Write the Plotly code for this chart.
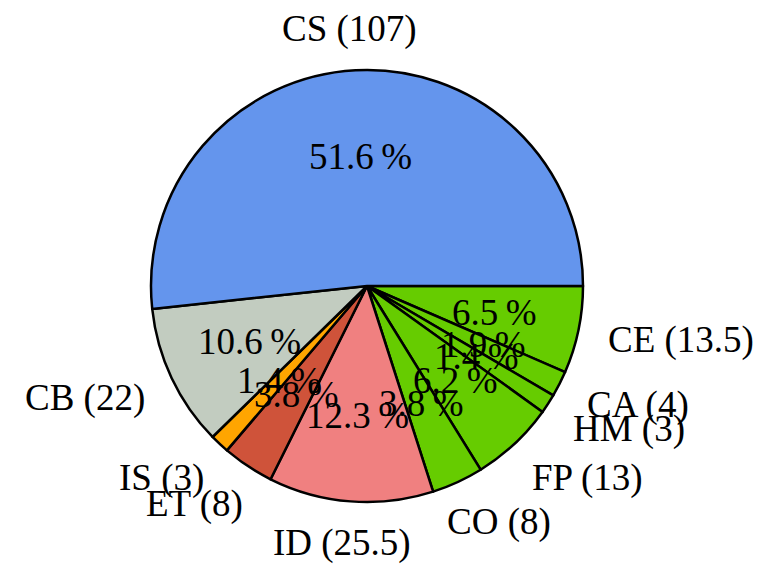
import math
import plotly.graph_objects as go

# ---- data ----
categories = ["CS", "CB", "IS", "ET", "ID", "CO", "FP", "HM", "CA", "CE"]
values = [107, 22, 3, 8, 25.5, 8, 13, 3, 4, 13.5]
pct_labels = ["51.6", "10.6", "1.4", "3.8", "12.3", "3.8", "6.2", "1.4", "1.9", "6.5"]
colors = ["#6495ED", "#C2CCC0", "#FFA500", "#CF533A", "#F08080",
          "#66CC00", "#66CC00", "#66CC00", "#66CC00", "#66CC00"]

# ---- layout constants (figure sits 8px inside the page because of body margin) ----
W, H = 760, 560
CX, CY, R = 359, 278, 216          # pie centre / radius in figure pixels (y from top)
FONT = "Liberation Serif"
FS = 37
LABEL_DIST = 1.11 * R
PCT_DIST = 0.6 * R
HALF_H = 18
K = 1.3

# serif-roman advance widths (per 1000 em) used to offset the outer labels
CM = {'A': 750, 'B': 708, 'C': 722, 'D': 764, 'E': 681, 'F': 653, 'H': 750,
      'I': 361, 'M': 917, 'O': 778, 'P': 681, 'S': 556, 'T': 722, ' ': 333,
      '(': 389, ')': 389, '.': 278}


def text_w(s):
    return sum(CM.get(ch, 500) for ch in s) / 1000 * FS


def clamp(x):
    return max(-1.0, min(1.0, x * K))


fig = go.Figure(go.Pie(
    labels=categories[::-1],
    values=values[::-1],
    marker=dict(colors=colors[::-1], line=dict(color="black", width=2.5)),
    sort=False,
    direction="clockwise",
    rotation=90,
    textinfo="none",
    hoverinfo="label+value",
    showlegend=False,
    domain=dict(x=[(CX - R) / W, (CX + R) / W],
                y=[(H - CY - R) / H, (H - CY + R) / H]),
))

total = sum(values)
start = 0.0
annotations = []
for cat, v, pct in zip(categories, values, pct_labels):
    mid = math.radians((start + v / 2) / total * 360)
    start += v
    c, s = math.cos(mid), math.sin(mid)
    # outer label
    txt = f"{cat} ({v:g})"
    a = text_w(txt) / 2
    px = CX + LABEL_DIST * c + a * clamp(c)
    py = CY - LABEL_DIST * s - HALF_H * clamp(s)
    annotations.append(dict(x=px / W, y=1 - py / H, xref="paper", yref="paper",
                            text=txt, showarrow=False, xanchor="center", yanchor="middle",
                            font=dict(family=FONT, size=FS, color="black")))
    # percentage label
    qx = CX + PCT_DIST * c
    qy = CY - PCT_DIST * s
    annotations.append(dict(x=qx / W, y=1 - qy / H, xref="paper", yref="paper",
                            text=f"{pct}\u2009%", showarrow=False, xanchor="center",
                            yanchor="middle",
                            font=dict(family=FONT, size=FS, color="black")))

fig.update_layout(
    width=W, height=H,
    margin=dict(l=0, r=0, t=0, b=0),
    paper_bgcolor="white",
    plot_bgcolor="white",
    annotations=annotations,
)

fig.write_html("out.html")
